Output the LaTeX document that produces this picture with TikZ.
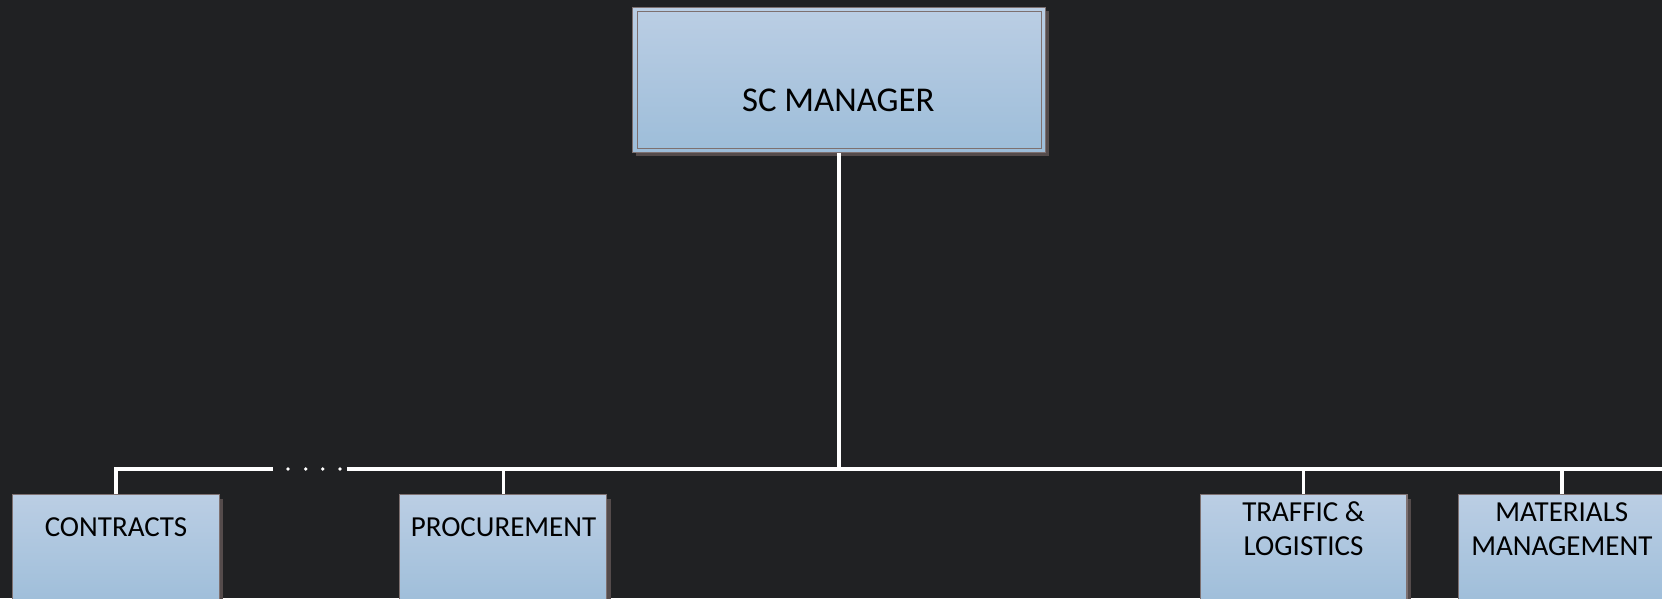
\documentclass[tikz,border=0pt]{standalone}
\usepackage{fontspec}
\setmainfont{Carlito}
\usetikzlibrary{calc,shadows}

\definecolor{bgcol}{RGB}{32,33,35}
\definecolor{boxtop}{RGB}{187,206,228}
\definecolor{boxbot}{RGB}{157,189,217}
\definecolor{boxedge}{RGB}{125,112,112}
\definecolor{shadowgray}{RGB}{84,75,75}

\begin{document}
\begin{tikzpicture}[
    x = 0.02cm,
    y = -0.02cm,
    wire/.style = {
      draw = white,
      line width = 2pt},
    unitbox/.style = {
      draw = boxedge,
      line width = 0.6pt,
      top color = boxtop,
      bottom color = boxbot,
      inner sep = 0pt},
    dept/.style = {
      unitbox,
      minimum width = 4.14cm,
      minimum height = 2.3cm,
      anchor = north,
      drop shadow = {shadow xshift = 0.08cm, shadow yshift = -0.08cm,
        fill = shadowgray, opacity = 1}},
    boss/.style = {
      unitbox,
      minimum width = 8.26cm,
      minimum height = 2.91cm,
      drop shadow = {shadow xshift = 0.07cm, shadow yshift = -0.07cm,
        fill = shadowgray, opacity = 1}},
    title/.style = {
      align = center,
      inner sep = 0pt,
      font = \fontsize{16.5}{19.4}\selectfont}
  ]
  % page and dark background
  \useasboundingbox (0,0) rectangle (1662,598);
  \fill[bgcol] (0,0) rectangle (1662,598);
  \clip (0,0) rectangle (1662,598);

  % the manager, with its double frame
  \node[boss] (mgr) at (839.2,80) {};
  \draw[draw = boxedge, line width = 0.6pt]
    ($(mgr.south west)+(5,-5)$) rectangle ($(mgr.north east)+(-5,5)$);
  \node[title, font = \fontsize{19.8}{23}\selectfont] (mgrlabel) at (838.3,100.5) {SC MANAGER};

  % the departments
  \node[dept] (contracts) at (115.8,494.3) {};
  \node[dept] (procure)   at (503.3,494.3) {};
  \node[dept] (traffic)   at (1303.5,494.3) {};
  \node[dept] (materials) at (1561.8,494.3) {};

  \node[title] (contractslabel) at (116,527.5) {CONTRACTS};
  \node[title] (procurelabel)   at (503.5,527.5) {PROCUREMENT};
  \node[title] (trafficlabel)   at (1303.5,529) {TRAFFIC \&\\LOGISTICS};
  \node[title] (materialslabel) at (1561.8,529) {MATERIALS\\MANAGEMENT};

  % the bus line, broken by dots on the left
  \coordinate (busL) at (272.7,469);
  \coordinate (busR) at (347.3,469);
  \coordinate (busend) at (1680,469);

  \draw[wire] (contracts.north) |- (busL);
  \foreach \x in {288,305.7,322.7,340}
    \fill[white] (\x,469) circle (0.038cm);
  \draw[wire] (busR) -- (busend);

  \draw[wire] (mgr.south) -- (mgr.south |- busend);
  \draw[wire] (procure.north) -- (procure.north |- busend);
  \draw[wire] (traffic.north) -- (traffic.north |- busend);
  \draw[wire] (materials.north) -- (materials.north |- busend);

\end{tikzpicture}
\end{document}
